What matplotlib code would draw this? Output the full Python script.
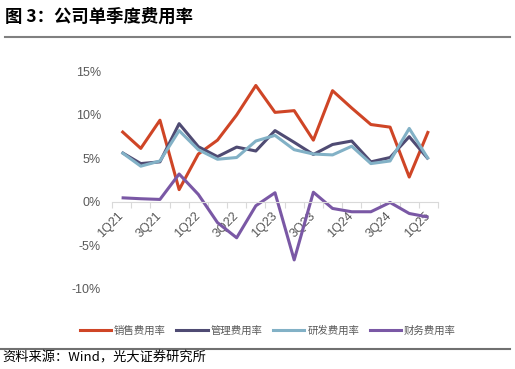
import matplotlib
matplotlib.use('Agg')
import matplotlib.pyplot as plt
from matplotlib.lines import Line2D
import matplotlib.transforms as mtransforms
import numpy as np

plt.rcParams['font.family'] = ['Liberation Sans', 'Noto Sans CJK SC', 'DejaVu Sans']

quarters = ['1Q21', '2Q21', '3Q21', '4Q21', '1Q22', '2Q22', '3Q22', '4Q22', '1Q23',
            '2Q23', '3Q23', '4Q23', '1Q24', '2Q24', '3Q24', '4Q24', '1Q25']
sales = [8.15, 6.15, 9.4, 1.4, 5.5, 7.1, 10.0, 13.4, 10.3, 10.5, 7.1, 12.8, 10.8, 8.9, 8.6, 2.85, 8.15]
admin = [5.7, 4.4, 4.6, 9.0, 6.35, 5.2, 6.3, 5.85, 8.2, 6.85, 5.45, 6.6, 7.0, 4.6, 5.1, 7.5, 4.9]
rnd = [5.7, 4.1, 4.7, 8.2, 6.0, 4.9, 5.1, 7.0, 7.65, 6.0, 5.5, 5.4, 6.4, 4.4, 4.7, 8.45, 4.9]
fin = [0.46, 0.35, 0.27, 3.2, 0.85, -2.4, -4.15, -0.46, 1.04, -6.7, 1.1, -0.77, -1.15, -1.15, -0.08, -1.35, -1.77]

names = ['销售费用率', '管理费用率', '研发费用率', '财务费用率']
colors = ['#CF4526', '#4F4B73', '#82B1C6', '#7A58A5']

fig = plt.figure(figsize=(5.15, 3.69), dpi=100)
ax = fig.add_axes([0.2175, 0.218, 0.633, 0.588])

x = np.arange(len(quarters))
for ys, c in zip([sales, admin, rnd, fin], colors):
    ax.plot(x, ys, color=c, lw=2.2, solid_capstyle='butt')

ax.set_xlim(-0.5, len(quarters) - 0.5)
ax.set_ylim(-10, 15)
ax.set_yticks([-10, -5, 0, 5, 10, 15])
ax.set_yticklabels([f'{v}%' for v in [-10, -5, 0, 5, 10, 15]])

for s in ['top', 'right', 'left']:
    ax.spines[s].set_visible(False)
ax.spines['bottom'].set_position(('data', 0))
ax.spines['bottom'].set_color('#D9D9D9')
ax.spines['bottom'].set_linewidth(0.8)

ax.set_xticks(np.arange(len(quarters) + 1) - 0.5)
ax.set_xticklabels([])
ax.tick_params(axis='x', which='major', length=4, color='#D9D9D9', width=0.8)
ax.set_xticks(x[::2], minor=True)
ax.set_xticklabels(quarters[::2], minor=True, rotation=45, ha='right',
                   rotation_mode='anchor', fontsize=9, color='#595959')
ax.tick_params(axis='x', which='minor', length=0, pad=6)
shift = mtransforms.ScaledTranslation(-3 / 72, 0, fig.dpi_scale_trans)
for lab in ax.get_xticklabels(minor=True):
    lab.set_transform(lab.get_transform() + shift)
ax.tick_params(axis='y', length=0, labelsize=9, labelcolor='#595959', pad=8)

handles = [Line2D([], [], color=c, lw=2.2) for c in colors]
fig.legend(handles, names, loc='center', bbox_to_anchor=(0.52, 0.105), ncol=4,
           frameon=False, handlelength=3.0, handletextpad=0.3,
           columnspacing=1.0, labelcolor='#595959',
           prop={'family': ['Noto Sans CJK SC'], 'size': 7.5})

fig.text(0.01, 0.956, '图 3：公司单季度费用率', fontsize=12.5, fontweight='bold',
         family=['Noto Sans CJK SC'], va='center')
fig.add_artist(Line2D([0.01, 0.99], [0.9, 0.9], color='#808080', lw=1.5))
fig.add_artist(Line2D([0.0, 0.99], [0.054, 0.054], color='#707070', lw=1.5))
fig.text(0.005, 0.03, '资料来源：Wind，光大证券研究所', fontsize=9.5,
         family=['Noto Sans CJK SC'], va='center')

fig.savefig('out.png', dpi=100)
